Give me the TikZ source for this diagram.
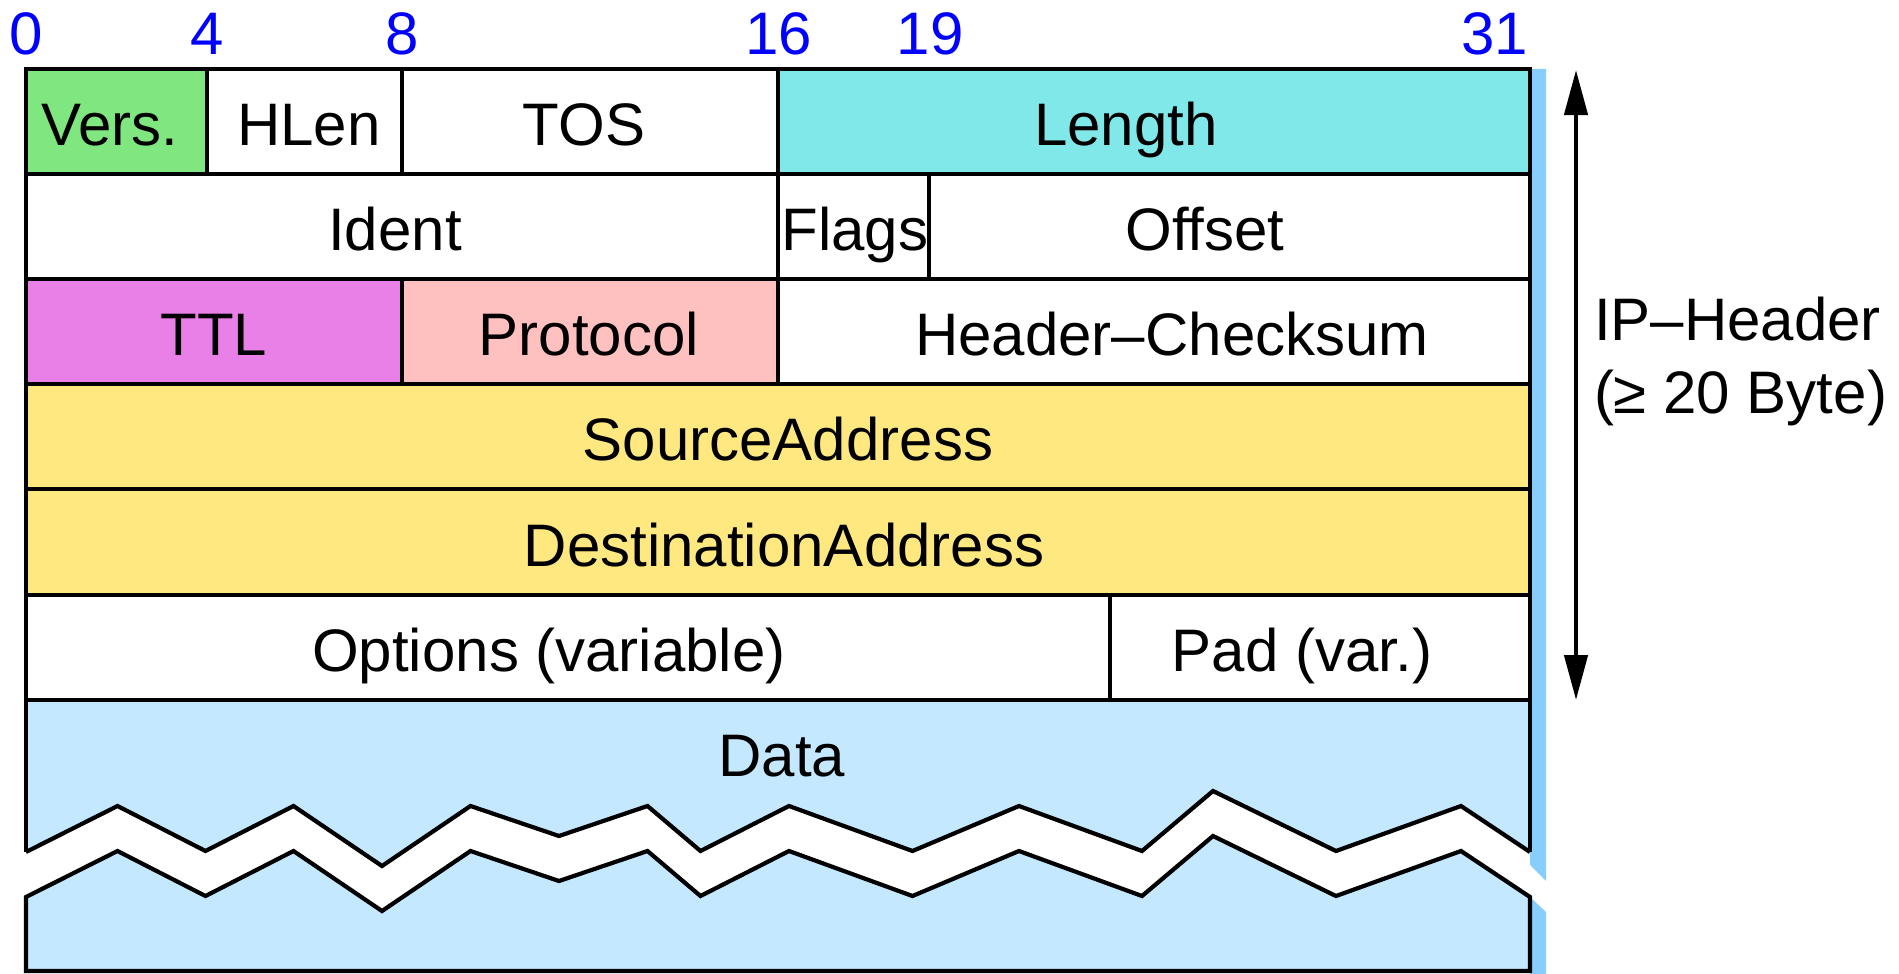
\documentclass[tikz,border=0pt]{standalone}
\usepackage{fontspec}
\setmainfont{Liberation Sans}
\usetikzlibrary{arrows.meta}
\definecolor{cVers}{RGB}{128,230,128}
\definecolor{cLen}{RGB}{128,232,232}
\definecolor{cTTL}{RGB}{232,128,232}
\definecolor{cProt}{RGB}{255,192,192}
\definecolor{cAddr}{RGB}{255,232,128}
\definecolor{cData}{RGB}{196,232,255}
\definecolor{cStrip}{RGB}{135,206,255}
\definecolor{cBit}{RGB}{0,0,255}
\tikzset{
  grid/.style={line width=4.2pt, line join=miter, draw=black},
  lbl/.style={anchor=base, inner sep=0pt, outer sep=0pt, font=\fontsize{60}{70}\selectfont},
  bitlbl/.style={lbl, text=cBit},
  arr/.style={line width=4.5pt, {Triangle[length=45pt,width=23pt]}-{Triangle[length=45pt,width=23pt]}}
}
\begin{document}
\begin{tikzpicture}[x=1pt,y=-1pt]
\useasboundingbox (0,0) rectangle (1899,974);
% side strip
\fill[cStrip] (1530,69) -- (1546,69) -- (1546,881) -- (1530,865) -- cycle;
\fill[cStrip] (1530,897) -- (1546,912) -- (1546,974) -- (1530,974) -- cycle;
% fills
\fill[cVers] (26,69) rectangle (207,174);
\fill[cLen] (778,69) rectangle (1530,174);
\fill[cTTL] (26,279) rectangle (402,384);
\fill[cProt] (402,279) rectangle (778,384);
\fill[cAddr] (26,384) rectangle (1530,595);
\fill[cData] (26,700) -- (1530,700) -- (1530,852)
  -- (1461,806) -- (1336,851) -- (1213,791) -- (1142,851) -- (1019,806)
  -- (912.5,851) -- (789,806) -- (700.5,851) -- (647.5,806) -- (559,836)
  -- (470.5,806) -- (382,866) -- (293.5,806) -- (205.5,851) -- (117.5,806)
  -- (26,852) -- cycle;
\fill[cData] (26,897) -- (117.5,851) -- (205.5,896) -- (293.5,851) -- (382,911)
  -- (470.5,851) -- (559,881) -- (647.5,851) -- (700.5,896) -- (789,851)
  -- (912.5,896) -- (1019,851) -- (1142,896) -- (1213,836) -- (1336,896)
  -- (1461,851) -- (1530,897) -- (1530,971) -- (26,971) -- cycle;
% grid lines
\draw[grid] (26,852) -- (26,69) -- (1530,69) -- (1530,852);
\foreach \y in {174,279,384,489,595,700} { \draw[grid] (26,\y) -- (1530,\y); }
\draw[grid] (207,69) -- (207,174);
\draw[grid] (402,69) -- (402,174);
\draw[grid] (778,69) -- (778,174);
\draw[grid] (778,174) -- (778,279);
\draw[grid] (929,174) -- (929,279);
\draw[grid] (402,279) -- (402,384);
\draw[grid] (778,279) -- (778,384);
\draw[grid] (1110,595) -- (1110,700);
% zigzag break
\draw[grid] (26,852) -- (117.5,806) -- (205.5,851) -- (293.5,806) -- (382,866)
  -- (470.5,806) -- (559,836) -- (647.5,806) -- (700.5,851) -- (789,806)
  -- (912.5,851) -- (1019,806) -- (1142,851) -- (1213,791) -- (1336,851)
  -- (1461,806) -- (1530,852);
\draw[grid] (1530,897) -- (1461,851) -- (1336,896) -- (1213,836) -- (1142,896)
  -- (1019,851) -- (912.5,896) -- (789,851) -- (700.5,896) -- (647.5,851)
  -- (559,881) -- (470.5,851) -- (382,911) -- (293.5,851) -- (205.5,896)
  -- (117.5,851) -- (26,897) -- (26,971) -- (1530,971) -- cycle;
% bit numbers
\node[bitlbl] (b0) at (26,55) {0};
\node[bitlbl] (b4) at (207,55) {4};
\node[bitlbl] (b8) at (402,55) {8};
\node[bitlbl] (b16) at (779,55) {16};
\node[bitlbl] (b19) at (930,55) {19};
\node[bitlbl, anchor=base east] (b31) at (1528,55) {31};
% field labels
\node[lbl] (vers) at (110,145) {Vers.};
\node[lbl] (hlen) at (309,145) {HLen};
\node[lbl] (tos) at (584,145) {TOS};
\node[lbl] (len) at (1126,145) {Length};
\node[lbl] (ident) at (395,250) {Ident};
\node[lbl] (flags) at (855,250) {Flags};
\node[lbl] (offset) at (1205,250) {Offset};
\node[lbl] (ttl) at (214,355) {TTL};
\node[lbl] (prot) at (589,355) {Protocol};
\node[lbl] (chk) at (1172,355) {Header–Checksum};
\node[lbl] (src) at (788,460) {SourceAddress};
\node[lbl] (dst) at (784,566) {DestinationAddress};
\node[lbl] (opt) at (549,671) {Options (variable)};
\node[lbl] (pad) at (1302,671) {Pad (var.)};
\node[lbl] (data) at (782,776) {Data};
% header arrow
\coordinate (atop) at (1576,70);
\coordinate (abot) at (1576,700);
\draw[arr] (atop) -- (abot);
\node[lbl, anchor=base west] (iph1) at (1594,340) {IP–Header};
\node[lbl, anchor=base west] (iph2) at (1594,413) {(≥ 20 Byte)};
\end{tikzpicture}
\end{document}
